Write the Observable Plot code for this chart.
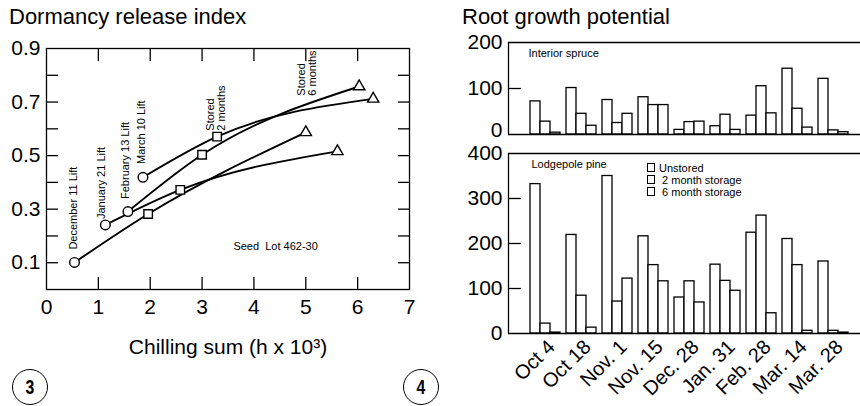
<!DOCTYPE html>
<html><head><meta charset="utf-8">
<script src="https://cdn.jsdelivr.net/npm/d3@7"></script>
<script src="https://cdn.jsdelivr.net/npm/@observablehq/plot@0.6"></script>
<style>
html,body{margin:0;padding:0;background:#fff;overflow:hidden;}
#root{position:relative;width:860px;height:406px;overflow:hidden;font-family:"Liberation Sans",Arial,Helvetica,sans-serif;color:#000;background:#fff;}
.abs{position:absolute;}
.abs svg{max-width:none;display:block;}
.title{position:absolute;font-size:22px;line-height:22px;white-space:nowrap;}
.circ{position:absolute;box-sizing:border-box;border:1.6px solid #000;border-radius:50%;display:flex;align-items:center;justify-content:center;font-size:21px;font-weight:bold;}
.circ span{display:inline-block;transform:scaleX(0.75);}
.legend{position:absolute;font-size:11px;line-height:12px;white-space:nowrap;}
.legend .row{display:flex;align-items:center;height:12px;}
.legend .sw{display:inline-block;box-sizing:border-box;width:8px;height:9px;border:1.3px solid #000;margin-right:4px;}
</style></head><body><div id="root"></div><script>
// ---------- Figure 3: Dormancy release index vs chilling sum ----------
const lifts = ["December 11 Lift", "January 21 Lift", "February 13 Lift", "March 10 Lift"];
const stages = ["Unstored", "Stored 2 months", "Stored 6 months"];
const chillDec11 = [0.54, 1.96, 5.00];
const chillJan21 = [1.135, 2.58, 5.61];
const chillFeb13 = [1.57, 3.00, 6.03];
const chillMar10 = [1.86, 3.29, 6.30];
const driDec11 = [0.101, 0.282, 0.587];
const driJan21 = [0.241, 0.372, 0.516];
const driFeb13 = [0.291, 0.503, 0.758];
const driMar10 = [0.419, 0.571, 0.712];
const yLabelTicks = [0.1, 0.3, 0.5, 0.7, 0.9];
const yMinorTicks = [0.1, 0.2, 0.3, 0.4, 0.5, 0.6, 0.7, 0.8];
const xLabelTicks = [0, 1, 2, 3, 4, 5, 6, 7];
const xMinorTicks = [1, 2, 3, 4, 5, 6];
const noteLabels = ["December 11 Lift", "January 21 Lift", "February 13 Lift", "March 10 Lift", "Stored\n2 months", "Stored\n6 months"];
const noteX = [0.517, 1.058, 1.521, 1.844, 3.27, 5.025];
const noteY = [0.149, 0.263, 0.338, 0.469, 0.593, 0.724];
const seedLot = "Seed\u00a0 Lot 462-30";
const seedX = 4.418, seedY = 0.160;
const xTitle = "Chilling sum (h x 10\u00b3)";

// ---------- Figure 4: Root growth potential ----------
const dates = ["Oct 4", "Oct 18", "Nov. 1", "Nov. 15", "Dec. 28", "Jan. 31", "Feb. 28", "Mar. 14", "Mar. 28"];
const storageKinds = ["Unstored", "2 month storage", "6 month storage"];
const spruceUnstored = [72, 101, 75, 81, 10, 18, 41, 143, 121];
const spruce2mo = [28, 45, 25, 64, 27, 43, 105, 56, 9];
const spruce6mo = [4, 19, 45, 64, 28, 10, 46, 15, 5];
const pineUnstored = [332, 219, 350, 216, 80, 153, 224, 210, 160];
const pine2mo = [22, 84, 71, 152, 116, 117, 262, 152, 6];
const pine6mo = [2, 13, 122, 116, 69, 95, 45, 6, 2];

// ---------- build tables ----------
const chillRows = [chillDec11, chillJan21, chillFeb13, chillMar10];
const driRows = [driDec11, driJan21, driFeb13, driMar10];
const pts = [];
lifts.forEach((lift, i) => stages.forEach((stage, j) => pts.push({lift, stage, chill: chillRows[i][j], dri: driRows[i][j]})));
const notes = noteLabels.map((label, i) => ({label, x: noteX[i], y: noteY[i]}));
function barTable(series) {
  const out = [];
  dates.forEach((date, i) => storageKinds.forEach((kind, j) => out.push({date, kind, value: series[j][i]})));
  return out;
}
const spruce = barTable([spruceUnstored, spruce2mo, spruce6mo]);
const pine = barTable([pineUnstored, pine2mo, pine6mo]);

const FONT = '"Liberation Sans", Arial, Helvetica, sans-serif';
const baseStyle = {fontFamily: FONT, fontSize: "11px", color: "black", background: "transparent", overflow: "visible"};
const root = document.getElementById("root");
function place(node, left, top, width) {
  const d = document.createElement("div");
  d.className = "abs";
  d.style.left = left + "px"; d.style.top = top + "px"; d.style.width = width + "px";
  d.appendChild(node); root.appendChild(d); return d;
}
function html(cls, text, left, top, extra) {
  const d = document.createElement("div");
  d.className = cls; d.style.left = left + "px"; d.style.top = top + "px";
  if (extra) Object.assign(d.style, extra);
  d.innerHTML = text; root.appendChild(d); return d;
}

// ---------- left chart ----------
const fig3 = Plot.plot({
  width: 420, height: 370,
  marginLeft: 46, marginRight: 11, marginTop: 48, marginBottom: 81,
  style: baseStyle,
  x: {domain: [0, 7], label: null},
  y: {domain: [0, 0.9], label: null},
  symbol: {domain: stages, range: ["circle", "square", "triangle"]},
  marks: [
    Plot.frame({stroke: "black", strokeWidth: 1.3}),
    Plot.axisY({ticks: yLabelTicks, tickSize: 0, tickPadding: 6, tickFormat: d3.format(".1f"), fontSize: 21, label: null}),
    Plot.axisY({ticks: yMinorTicks, tickSize: 12, dx: 12, fill: "none", label: null, strokeWidth: 1.3}),
    Plot.axisY({anchor: "right", ticks: yMinorTicks, tickSize: 12, dx: -12, fill: "none", label: null, strokeWidth: 1.3}),
    Plot.axisX({ticks: xLabelTicks, tickSize: 0, tickPadding: 10, tickFormat: d3.format("d"), fontSize: 21, label: null}),
    Plot.axisX({ticks: xMinorTicks, tickSize: 12, dy: -12, fill: "none", label: null, strokeWidth: 1.3}),
    Plot.axisX({anchor: "top", ticks: xMinorTicks, tickSize: 12, dy: 12, fill: "none", label: null, strokeWidth: 1.3}),
    Plot.text([xTitle], {text: d => d, frameAnchor: "bottom", dy: 58, fontSize: 21, lineAnchor: "middle"}),
    Plot.line(pts, {x: "chill", y: "dri", z: "lift", curve: "monotone-x", stroke: "black", strokeWidth: 1.9}),
    Plot.dot(pts, {filter: d => d.stage !== stages[2], x: "chill", y: "dri", symbol: "stage", r: 4.8, fill: "white", stroke: "black", strokeWidth: 1.4}),
    Plot.dot(pts, {filter: d => d.stage === stages[2], x: "chill", y: "dri", symbol: "stage", r: 4.2, fill: "white", stroke: "black", strokeWidth: 1.4}),
    Plot.text(notes, {x: "x", y: "y", text: "label", rotate: -90, textAnchor: "start", lineAnchor: "middle", fontSize: 11, lineHeight: 0.95}),
    Plot.text([seedLot], {text: d => d, x: () => seedX, y: () => seedY, fontSize: 11, lineAnchor: "middle"})
  ]
});
place(fig3, 0, 0, 420);

// ---------- right chart panels ----------
const fxOpts = {domain: dates, paddingInner: 0.164, paddingOuter: 0.54, label: null};
function frameOverlay(ymax, ticks, zeroDy, inner, height, mt, mb, label, dx) {
  return Plot.plot({
    width: 450, height, marginLeft: 78, marginRight: 10, marginTop: mt, marginBottom: mb,
    style: baseStyle,
    x: {domain: [0, 1], axis: null, label: null},
    y: {domain: [0, ymax], label: null},
    marks: [
      Plot.ruleY([0, ymax], {stroke: "black", strokeWidth: 1.3}),
      Plot.ruleX([0], {stroke: "black", strokeWidth: 1.3}),
      Plot.axisY({ticks, tickSize: 0, tickPadding: 6, tickFormat: d3.format("d"), fontSize: 21, label: null}),
      Plot.axisY({ticks: [0], tickSize: 0, tickPadding: 6, dy: zeroDy, tickFormat: d3.format("d"), fontSize: 21, label: null}),
      Plot.axisY({ticks: inner, tickSize: 13, dx: 13, fill: "none", label: null, strokeWidth: 1.3}),
      Plot.text([label], {text: d => d, frameAnchor: "top-left", textAnchor: "start", lineAnchor: "middle", dx, dy: 11, fontSize: 11})
    ]
  });
}
function barPanel(data, ymax, height, mt, mb, withAxis) {
  return Plot.plot({
    width: 450, height, marginLeft: 78, marginRight: 10, marginTop: mt, marginBottom: mb,
    style: baseStyle,
    fx: withAxis ? fxOpts : {...fxOpts, axis: null},
    x: {domain: storageKinds, padding: 0, axis: null, label: null},
    y: {domain: [0, ymax], axis: null, label: null},
    marks: [
      Plot.barY(data, {fx: "date", x: "kind", y: "value", fill: "white", stroke: "black", strokeWidth: 1.3}),
      withAxis ? Plot.axisFx({anchor: "bottom", tickRotate: -45, tickSize: 0, tickPadding: 10, dx: 6, fontSize: 20, label: null}) : null
    ]
  });
}
place(barPanel(spruce, 200, 140, 42, 6, false), 430, 0, 450);
place(frameOverlay(200, [100, 200], -4, [100], 140, 42, 6, "Interior spruce", 20), 430, 0, 450);
place(barPanel(pine, 400, 266, 13, 73, true), 430, 140, 450);
place(frameOverlay(400, [100, 200, 300, 400], 0, [100, 200, 300], 266, 13, 73, "Lodgepole pine", 23), 430, 140, 450);

// legend
html("legend", storageKinds.map((k, i) => `<div class="row"><span class="sw"></span>${i ? "\u00a0" : ""}${k}</div>`).join(""), 647, 161.7);

// titles
html("title", "Dormancy release index", 9, 6);
html("title", "Root growth potential", 462, 6);

// panel numbers
html("circ", "<span>3</span>", 12, 369, {width: "36px", height: "36px"});
html("circ", "<span>4</span>", 403, 369, {width: "36px", height: "36px"});
</script></body></html>
